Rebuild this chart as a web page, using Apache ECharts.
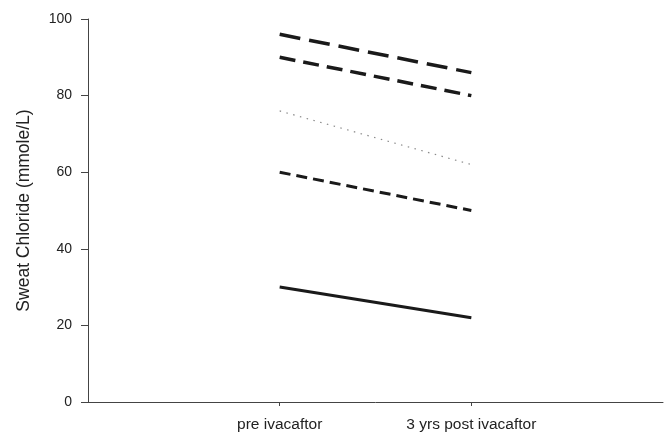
<!DOCTYPE html>
<html>
<head>
<meta charset="utf-8">
<script src="https://cdn.jsdelivr.net/npm/echarts@6/dist/echarts.min.js"></script>
<style>
  html, body { margin: 0; padding: 0; background: #fff; }
  #chart { width: 667px; height: 433px; }
</style>
</head>
<body>
<div id="chart"></div>
<script>
// categories (blank slots pad the axis on both sides)
const categories = ['', 'pre ivacaftor', '3 yrs post ivacaftor', ''];
const yTicks = { min: 0, max: 100, interval: 20 };

// one pair of values per patient: pre, post
const patientA = [null, 96, 86, null];
const patientB = [null, 90, 80, null];
const patientC = [null, 76, 62, null];
const patientD = [null, 60, 50, null];
const patientE = [null, 30, 22, null];

const lineStyles = [
  { data: patientA, color: '#1a1a1a', width: 3.5, type: [21, 9] },
  { data: patientB, color: '#1a1a1a', width: 3.5, type: [16, 8] },
  { data: patientC, color: '#8a8a8a', width: 1.2, type: [1.5, 5.5] },
  { data: patientD, color: '#1a1a1a', width: 3, type: [11, 6] },
  { data: patientE, color: '#1a1a1a', width: 3, type: 'solid' }
];

let myChart = echarts.init(document.getElementById('chart'));
myChart.setOption({
  backgroundColor: '#fff',
  animation: false,
  textStyle: { fontFamily: 'Liberation Sans, Arial, sans-serif' },
  grid: {
    left: 88,
    right: 4,
    top: 19,
    bottom: 30
  },
  xAxis: {
    type: 'category',
    data: categories,
    boundaryGap: false,
    axisLine: { lineStyle: { color: '#444', width: 1 } },
    axisTick: {
      length: 4,
      interval: function (i, v) { return v !== ''; },
      lineStyle: { color: '#444' }
    },
    axisLabel: {
      interval: 0,
      margin: 15,
      fontSize: 15.5,
      color: '#222'
    },
    splitLine: { show: false }
  },
  yAxis: {
    type: 'value',
    min: yTicks.min,
    max: yTicks.max,
    interval: yTicks.interval,
    name: 'Sweat Chloride (mmole/L)',
    nameLocation: 'middle',
    nameGap: 55,
    nameTextStyle: { fontSize: 17.5, color: '#222' },
    axisLine: { show: true, lineStyle: { color: '#444', width: 1 } },
    axisTick: { show: true, length: 7, lineStyle: { color: '#444' } },
    axisLabel: { margin: 16, fontSize: 14, color: '#222' },
    splitLine: { show: false }
  },
  series: lineStyles.map(function (s) {
    return {
      type: 'line',
      data: s.data,
      symbol: 'none',
      connectNulls: false,
      lineStyle: { color: s.color, width: s.width, type: s.type, cap: 'butt' }
    };
  })
});
</script>
</body>
</html>
